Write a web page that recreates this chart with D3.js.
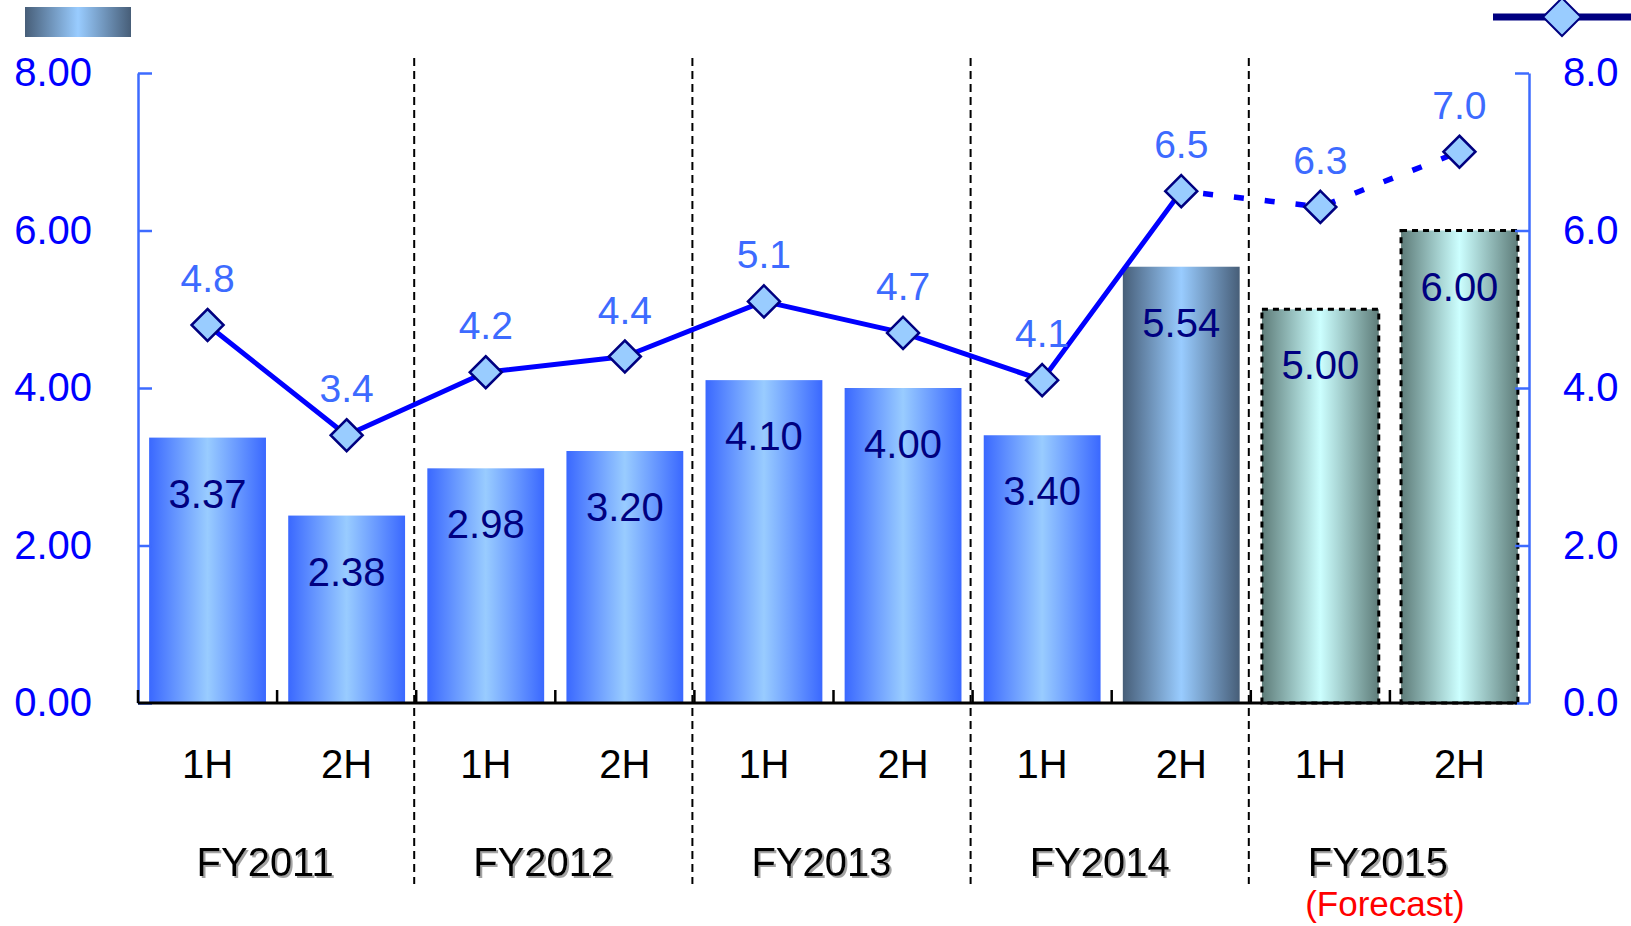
<!DOCTYPE html>
<html>
<head>
<meta charset="utf-8">
<script src="https://cdn.jsdelivr.net/npm/d3@7"></script>
<style>
  html, body { margin: 0; padding: 0; background: #fff; }
  svg { display: block; font-family: "Liberation Sans", Arial, sans-serif; }
</style>
</head>
<body>
<svg id="chart" width="1631" height="926"></svg>
<script>
// ---- data ----
const fiscalYears = ["FY2011", "FY2012", "FY2013", "FY2014", "FY2015"];
const halves = ["1H", "2H"];
const barValues = [3.37, 2.38, 2.98, 3.20, 4.10, 4.00, 3.40, 5.54, 5.00, 6.00];
const lineValues = [4.8, 3.4, 4.2, 4.4, 5.1, 4.7, 4.1, 6.5, 6.3, 7.0];
const forecastYears = ["FY2015"];
const forecastNote = "(Forecast)";
const leftTicks = [0, 2, 4, 6, 8];
const rightTicks = [0, 2, 4, 6, 8];

// ---- derived table ----
const rows = [];
fiscalYears.forEach(fy => halves.forEach(h => {
  const i = rows.length;
  rows.push({ key: fy + "-" + h, fy, half: h, bar: barValues[i], line: lineValues[i],
              forecast: forecastYears.includes(fy) });
}));
const lastActual = d3.max(rows.filter(r => !r.forecast), r => rows.indexOf(r));
rows.forEach((r, i) => r.kind = r.forecast ? "forecast" : (i === lastActual ? "latest" : "normal"));

// ---- layout ----
const svg = d3.select("#chart");
const X0 = 138, X1 = 1529, Y0 = 703, Y1 = 73;
const x = d3.scaleBand().domain(rows.map(r => r.key)).range([X0, X1])
  .paddingInner(0.16).paddingOuter(0.08);
const y = d3.scaleLinear().domain([0, 8]).range([Y0, Y1]);
const y2 = d3.scaleLinear().domain([0, 8]).range([Y0, Y1]);
const step = x.step();

// ---- gradients / filters ----
const defs = svg.append("defs");
function hGrad(id, edge, mid) {
  const g = defs.append("linearGradient").attr("id", id)
    .attr("x1", "0%").attr("x2", "100%").attr("y1", "0%").attr("y2", "0%");
  g.append("stop").attr("offset", "0%").attr("stop-color", edge);
  g.append("stop").attr("offset", "50%").attr("stop-color", mid);
  g.append("stop").attr("offset", "100%").attr("stop-color", edge);
}
hGrad("g-normal", "#3a68ff", "#99ccff");
hGrad("g-latest", "#475e78", "#99ccff");
hGrad("g-forecast", "#5e7c79", "#ccffff");
const shadow = defs.append("filter").attr("id", "txtShadow")
  .attr("x", "-10%").attr("y", "-20%").attr("width", "130%").attr("height", "150%");
shadow.append("feDropShadow").attr("dx", 2).attr("dy", 2).attr("stdDeviation", 0.6)
  .attr("flood-color", "#999").attr("flood-opacity", 0.9);

// ---- legend ----
svg.append("rect").attr("x", 25).attr("y", 7).attr("width", 106).attr("height", 30)
  .attr("fill", "url(#g-latest)");
svg.append("line").attr("x1", 1493).attr("x2", 1631).attr("y1", 17).attr("y2", 17)
  .attr("stroke", "#000080").attr("stroke-width", 7);
const diamond = (cx, cy, r) => `M${cx},${cy - r}L${cx + r},${cy}L${cx},${cy + r}L${cx - r},${cy}Z`;
svg.append("path").attr("d", diamond(1562, 17, 19))
  .attr("fill", "#99ccff").attr("stroke", "#000080").attr("stroke-width", 2);

// ---- bars ----
svg.append("g").selectAll("rect").data(rows).join("rect")
  .attr("x", d => x(d.key)).attr("width", x.bandwidth())
  .attr("y", d => y(d.bar)).attr("height", d => Y0 - y(d.bar))
  .attr("fill", d => "url(#g-" + d.kind + ")")
  .attr("stroke", d => d.forecast ? "#000" : "none")
  .attr("stroke-width", 3).attr("stroke-dasharray", "6,5");

// ---- group separators ----
svg.append("g").selectAll("line").data(d3.range(1, fiscalYears.length)).join("line")
  .attr("x1", i => X0 + step * halves.length * i - 2).attr("x2", i => X0 + step * halves.length * i - 2)
  .attr("y1", 58).attr("y2", 884)
  .attr("stroke", "#000").attr("stroke-width", 2).attr("stroke-dasharray", "8,5");

// ---- axes ----
const left = svg.append("g").attr("transform", `translate(${X0},0)`)
  .call(d3.axisLeft(y).tickValues(leftTicks).tickFormat(d3.format(".2f"))
    .tickSizeInner(-14).tickSizeOuter(0).tickPadding(46));
const right = svg.append("g").attr("transform", `translate(${X1},0)`)
  .call(d3.axisRight(y2).tickValues(rightTicks).tickFormat(d3.format(".1f"))
    .tickSizeInner(-14).tickSizeOuter(0).tickPadding(34));
[left, right].forEach(g => {
  g.select(".domain").attr("stroke", "#3d6bff").attr("stroke-width", 2.5);
  g.selectAll(".tick line").attr("stroke", "#3d6bff").attr("stroke-width", 2.5);
  g.selectAll(".tick text").attr("fill", "#0000ff").attr("font-size", 40)
    .attr("font-family", "Liberation Sans, Arial, sans-serif");
});

// bottom axis
svg.append("line").attr("x1", X0).attr("x2", X1 - 12).attr("y1", Y0).attr("y2", Y0)
  .attr("stroke", "#000").attr("stroke-width", 3);
svg.append("g").selectAll("line").data(d3.range(0, rows.length)).join("line")
  .attr("x1", i => X0 + step * i).attr("x2", i => X0 + step * i)
  .attr("y1", Y0).attr("y2", Y0 - 13)
  .attr("stroke", "#000").attr("stroke-width", 2.5);

// category labels
svg.append("g").selectAll("text").data(rows).join("text")
  .attr("x", d => x(d.key) + x.bandwidth() / 2).attr("y", 778)
  .attr("text-anchor", "middle").attr("font-size", 40).attr("fill", "#000")
  .text(d => d.half);

const fyCenter = fy => {
  const ks = rows.filter(r => r.fy === fy).map(r => x(r.key) + x.bandwidth() / 2);
  return d3.mean(ks) - 12;
};
svg.append("g").selectAll("text").data(fiscalYears).join("text")
  .attr("x", d => fyCenter(d)).attr("y", 876)
  .attr("text-anchor", "middle").attr("font-size", 40).attr("fill", "#000")
  .attr("filter", "url(#txtShadow)").text(d => d);
svg.append("text").attr("x", fyCenter(forecastYears[0]) + 7).attr("y", 916)
  .attr("text-anchor", "middle").attr("font-size", 35).attr("fill", "#ff0000")
  .text(forecastNote);

// ---- line ----
const cx = d => x(d.key) + x.bandwidth() / 2;
const lineGen = d3.line().x(cx).y(d => y2(d.line));
const actual = rows.filter(r => !r.forecast);
const fc = [rows[lastActual]].concat(rows.filter(r => r.forecast));
svg.append("path").attr("d", lineGen(actual)).attr("fill", "none")
  .attr("stroke", "#0000ff").attr("stroke-width", 5).attr("stroke-linejoin", "round");
svg.append("path").attr("d", lineGen(fc)).attr("fill", "none")
  .attr("stroke", "#0000ff").attr("stroke-width", 5.5).attr("stroke-dasharray", "10,21")
  .attr("stroke-dashoffset", -22);
svg.append("g").selectAll("path").data(rows).join("path")
  .attr("d", d => diamond(cx(d), y2(d.line), 16))
  .attr("fill", "#99ccff").attr("stroke", "#000080").attr("stroke-width", 2.5);

// ---- value labels ----
svg.append("g").selectAll("text").data(rows).join("text")
  .attr("x", cx).attr("y", d => y2(d.line) - 33)
  .attr("text-anchor", "middle").attr("font-size", 39).attr("fill", "#3d6bff")
  .text(d => d3.format(".1f")(d.line));
svg.append("g").selectAll("text").data(rows).join("text")
  .attr("x", cx).attr("y", d => y(d.bar) + 70)
  .attr("text-anchor", "middle").attr("font-size", 40).attr("fill", "#000080")
  .text(d => d3.format(".2f")(d.bar));
</script>
</body>
</html>
